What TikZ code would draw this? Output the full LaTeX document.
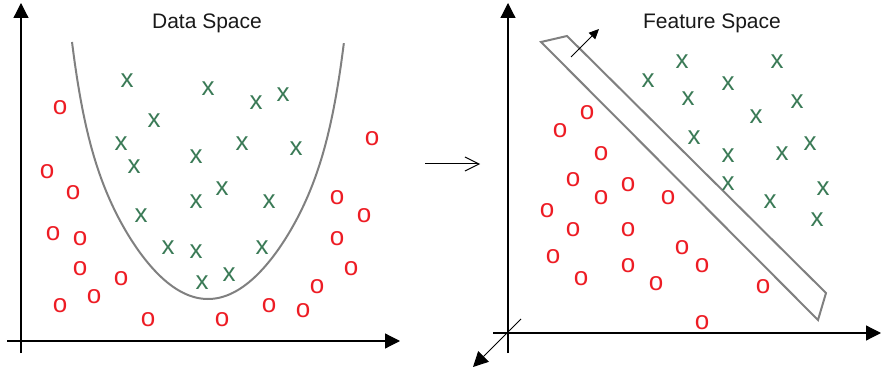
\documentclass[tikz,border=0pt]{standalone}
\usepackage{fontspec}
\setmainfont{Liberation Sans}
\usepackage{xcolor}
\definecolor{verdeX}{RGB}{58,122,86}
\definecolor{rojoO}{RGB}{237,28,36}
\definecolor{grisSep}{RGB}{128,128,128}
\usetikzlibrary{arrows.meta}

\begin{document}
\begin{tikzpicture}[
  x=1pt, y=-1pt,
  axis/.style={-{Triangle[length=15pt, width=15pt]}, line width=1.2pt, black},
  sep/.style={grisSep, line width=2pt},
  cross/.style={text=verdeX, font=\fontsize{26}{30}\selectfont, inner sep=0pt},
  circ/.style={text=rojoO, font=\fontsize{26}{30}\selectfont, inner sep=0pt},
  title/.style={font=\fontsize{21}{25}\selectfont, anchor=base, text=black!90},
  normal/.style={-{Triangle[length=10pt, width=9pt]}, line width=1pt, black},
  mapping/.style={-{Straight Barb[length=14pt, width=14pt]}, line width=1pt, black}
]
\useasboundingbox (0,0) rectangle (881,374);

% Ejes del espacio de datos
\coordinate (dyb) at (21,353);  \coordinate (dyt) at (21,3);
\coordinate (dxl) at (7,341);   \coordinate (dxr) at (400,341);
\draw[axis] (dyb) -- (dyt);
\draw[axis] (dxl) -- (dxr);
\node[title] (tdata) at (207,28.3) {Data Space};

% Frontera no lineal
\draw[sep] plot[domain=-1:1, samples=101, smooth]
  ({208+136*\x}, {299-257*(0.72*(\x)*(\x)+0.28*((\x)*(\x))^5)});

% Clase x (dentro) y clase o (fuera)
\foreach \p [count=\i] in {(127,81),(208,89),(256,103),(283,95),(154,121),
    (121,144),(134,167),(196,157),(242,144),(296,149),(222,189),(196,202),
    (269,202),(141,216),(168,248),(196,252),(262,248),(202,283),(229,275)}
  \node[cross] (dx\i) at \p {x};
\foreach \p [count=\i] in {(60,108),(47,172),(73,193),(372,139),(53,234),
    (80,239),(80,269),(121,279),(94,297),(60,306),(148,320),(222,320),
    (269,306),(303,311),(317,287),(351,269),(337,239),(364,216),(337,198)}
  \node[circ] (do\i) at \p {o};

% Flecha de transformacion
\coordinate (ma) at (425,164); \coordinate (mb) at (480,164);
\draw[mapping] (ma) -- (mb);

% Ejes del espacio de caracteristicas
\coordinate (fyb) at (508,353); \coordinate (fyt) at (508,3);
\coordinate (fxl) at (493,333); \coordinate (fxr) at (881,333);
\coordinate (fzb) at (521,319); \coordinate (fzt) at (473,367);
\draw[axis] (fyb) -- (fyt);
\draw[axis] (fxl) -- (fxr);
\draw[axis, line width=1pt] (fzb) -- (fzt);
\node[title] (tfeat) at (712,28.3) {Feature Space};

% Hiperplano separador y su normal
\coordinate (h1) at (541,42);  \coordinate (h2) at (567,36);
\coordinate (h3) at (826,293); \coordinate (h4) at (818,320);
\draw[sep] (h1) -- (h2) -- (h3) -- (h4) -- cycle;
\coordinate (na) at (571,57); \coordinate (nb) at (599,29);
\draw[normal] (na) -- (nb);

\foreach \p [count=\i] in {(682,62),(777,62),(648,81),(728,84),(688,99),
    (797,102),(756,117),(694,138),(810,144),(728,156),(782,154),(728,184),
    (823,189),(770,202),(817,220)}
  \node[cross] (fx\i) at \p {x};
\foreach \p [count=\i] in {(587,113),(560,131),(601,154),(573,180),(628,185),
    (601,198),(668,198),(547,211),(573,230),(628,230),(682,248),(553,257),
    (702,266),(628,266),(581,279),(656,284),(763,287),(702,323)}
  \node[circ] (fo\i) at \p {o};

\end{tikzpicture}
\end{document}
